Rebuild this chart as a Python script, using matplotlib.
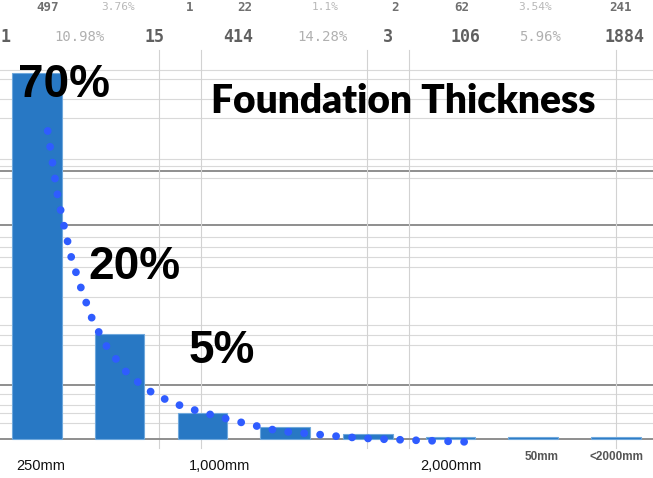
import matplotlib
matplotlib.use("Agg")
import matplotlib.pyplot as plt

# Share of foundations per thickness bin (percent)
share = [70, 20, 5, 2.3, 1.0, 0.4, 0.3, 0.3]

# Hand-sketched decay curve drawn over the bars (bin index, percent)
trend_x = [0.13, 0.19, 0.25, 0.33, 0.42, 0.54, 0.68, 0.86, 1.11, 1.43,
           1.78, 2.16, 2.54, 2.93, 3.31, 3.71, 4.10, 4.49, 4.89, 5.28]
trend_y = [58.9, 52.6, 46.5, 40.5, 34.4, 28.5, 22.4, 17.2, 12.2, 8.4,
           6.1, 4.4, 2.9, 1.5, 1.0, 0.4, 0.0, -0.2, -0.4, -0.6]

# Thickness labels under the axis
axis_labels = ["250mm", "1,000mm", "2,000mm"]
axis_label_pos = [0.05, 2.21, 5.0]
faded_labels = ["50mm", "<2000mm"]

# Spreadsheet rows showing through behind the chart
sheet_row = ["1", "10.98%", "15", "414", "14.28%", "3", "106", "5.96%", "1884"]
sheet_row_above = ["497", "3.76%", "1", "22", "1.1%", "2", "62", "3.54%", "241"]

title = "Foundation Thickness"

W, H = 653, 478
fig = plt.figure(figsize=(W / 100, H / 100), dpi=100)

# ---- background sheet (pixel coordinates) ----
bg = fig.add_axes([0, 0, 1, 1], zorder=0)
bg.set_xlim(0, W)
bg.set_ylim(H, 0)
bg.axis("off")

light_rows = [70, 79, 99, 118, 159, 166, 178, 237, 247, 257, 267, 297,
              325, 335, 345, 394, 405, 413, 423]
dark_rows = [171, 225, 385]
for y in light_rows:
    bg.axhline(y, color="#d9d9d9", lw=0.8)
for y in dark_rows:
    bg.axhline(y, color="#8e8e8e", lw=1.4)
for x in [159, 201, 367, 409, 616]:
    bg.plot([x, x], [50, 448], color="#d2d2d2", lw=0.8)

row_x = [5, 79, 155, 238, 322, 388, 466, 540, 625]
for x, s in zip(row_x, sheet_row):
    pct = s.endswith("%")
    bg.text(x, 37, s, ha="center", va="center", family="DejaVu Sans Mono",
            fontsize=10 if pct else 12, fontweight="normal" if pct else "bold",
            color="#b0b0b0" if pct else "#606060")
above_x = [48, 118, 190, 245, 325, 395, 462, 535, 620]
for x, s in zip(above_x, sheet_row_above):
    pct = s.endswith("%")
    bg.text(x, 7, s, ha="center", va="center", family="DejaVu Sans Mono",
            fontsize=8 if pct else 9, fontweight="normal" if pct else "bold",
            color="#b8b8b8" if pct else "#707070")

# ---- chart ----
ax = fig.add_axes([0, 0, 1, 1], zorder=1)
ax.patch.set_alpha(0)
ax.set_xlim(-0.447, 7.449)
ax.set_ylim(-7.46, 83.94)
ax.axis("off")

ax.axhline(0, color="#8e8e8e", lw=1.4, zorder=1)
ax.bar(range(len(share)), share, width=0.6, color="#2878c4",
       edgecolor="#6fa8dc", linewidth=0.8, zorder=2)
ax.plot(trend_x, trend_y, color="#2f5cff", lw=5.6,
        linestyle=(0, (0.01, 2.05)), dash_capstyle="round",
        solid_capstyle="round", zorder=3)

for x, s in zip(axis_label_pos, axis_labels):
    ax.text(x, -5.2, s, ha="center", va="center",
            family="Liberation Sans", fontsize=10.5, color="#111111")

# ---- overlay texts (pixel coordinates) ----
top = fig.add_axes([0, 0, 1, 1], zorder=2)
top.set_xlim(0, W)
top.set_ylim(H, 0)
top.axis("off")

# callouts for the three largest bins
callout_px = [(18, 97), (88, 279), (189, 363)]
for (px, py), v in zip(callout_px, share[:3]):
    top.text(px, py, f"{v:g}%", ha="left", va="baseline",
             family="Liberation Sans", fontweight="bold", fontsize=33,
             color="black")
top.text(211, 113, title, ha="left", va="baseline", family="Lato",
         fontweight="heavy", fontsize=28, color="black")
for x, s in zip([542, 616], faded_labels):
    top.text(x, 457, s, ha="center", va="center", family="Liberation Sans",
             fontweight="bold", fontsize=8.5, color="#555555")

fig.savefig("out.png", dpi=100)
